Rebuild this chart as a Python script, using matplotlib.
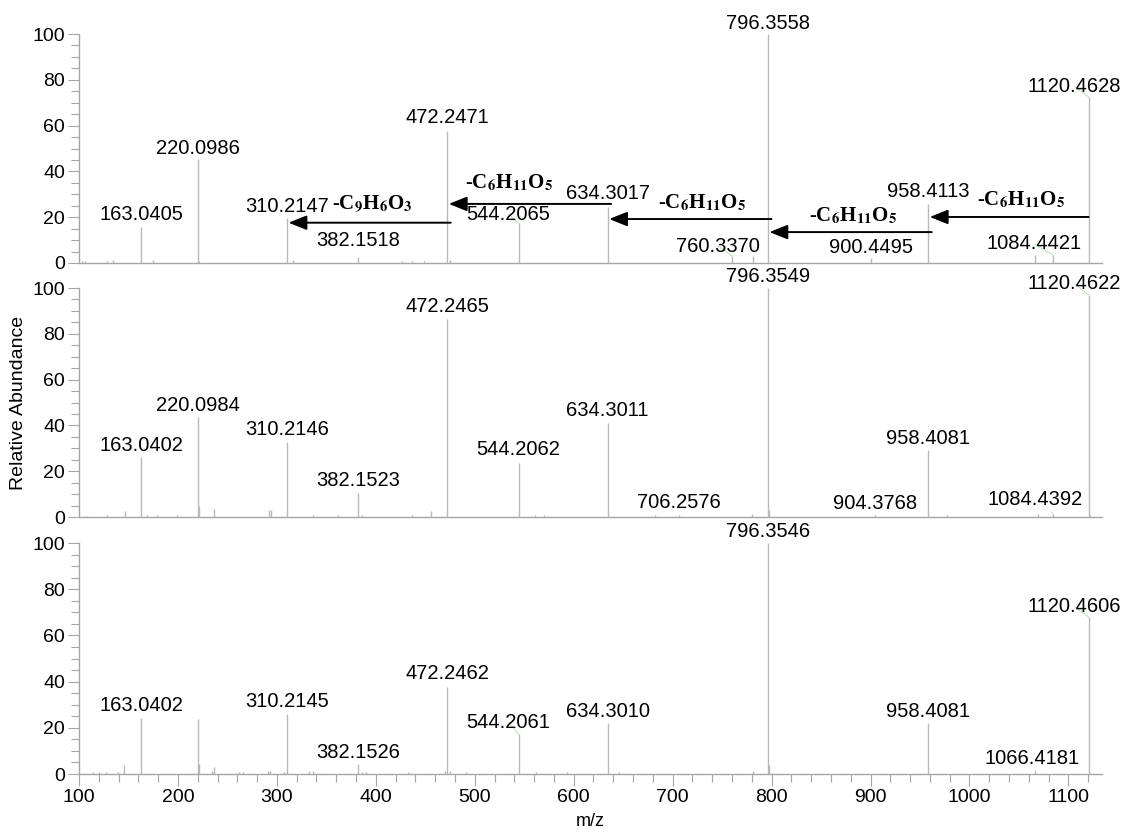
import matplotlib
matplotlib.use('Agg')
import matplotlib.pyplot as plt
from matplotlib.ticker import MultipleLocator

plt.rcParams['font.family'] = ['Liberation Sans', 'DejaVu Sans']

# labelled peaks (m/z, relative abundance) for the three spectra
top_mz = [163.0405, 220.0986, 310.2147, 382.1518, 472.2471, 544.2065, 634.3017,
          760.3370, 796.3558, 900.4495, 958.4113, 1084.4421, 1120.4628]
top_int = [15.7, 45.4, 19.5, 2.6, 57.7, 17.4, 24.6, 3.0, 100, 2.0, 25.8, 3.5, 72.6]

mid_mz = [163.0402, 220.0984, 310.2146, 382.1523, 472.2465, 544.2062, 634.3011,
          706.2576, 796.3549, 904.3768, 958.4081, 1084.4392, 1120.4622]
mid_int = [26.2, 43.7, 32.8, 10.5, 86.5, 23.6, 41.0, 1.0, 100, 0.8, 29.3, 1.5, 97.0]

bot_mz = [163.0402, 310.2145, 382.1526, 472.2462, 544.2061, 634.3010,
          796.3546, 958.4081, 1066.4181, 1120.4606]
bot_int = [24.2, 26.0, 4.3, 37.7, 17.3, 22.0, 100, 22.0, 1.3, 68.0]

# unlabelled peaks
top_small_mz = [103, 106, 128, 134, 175, 221.5, 316, 426, 437, 449, 475, 781, 1066]
top_small_int = [0.8, 0.8, 0.8, 1.2, 1.5, 1.0, 1.5, 1.0, 1.0, 1.0, 1.5, 3.0, 3.5]

mid_small_mz = [108, 128, 146, 169, 179, 199, 221.5, 236, 292, 294, 336, 362, 386,
                437, 456, 561, 570, 682, 780, 797.5, 977, 1069, 1122]
mid_small_int = [0.5, 0.8, 2.6, 1.0, 1.0, 0.8, 4.8, 3.5, 3.0, 3.0, 1.0, 0.8, 1.0,
                 1.0, 2.5, 1.0, 1.0, 1.0, 1.5, 3.0, 1.0, 1.5, 1.0]

bot_small_mz = [114, 120, 127, 139, 145, 220.0984, 221.5, 234, 236, 262, 266, 291,
                293, 307, 332, 336, 386, 390, 433, 470, 475, 491, 562, 593, 646,
                781, 797.5]
bot_small_int = [0.7, 0.7, 1.0, 0.7, 3.9, 23.8, 4.3, 1.5, 3.0, 1.0, 1.0, 1.5,
                 1.5, 1.0, 1.5, 1.5, 1.0, 1.0, 1.0, 1.5, 1.5, 1.0, 1.0, 1.0, 1.0,
                 1.5, 4.0]

# neutral losses between fragments in the first spectrum
loss_from = [1120.4628, 958.4113, 796.3558, 634.3017, 472.2471]
loss_to = [958.4113, 796.3558, 634.3017, 472.2471, 310.2147]
loss_level = [20.1, 13.5, 19.2, 25.8, 17.6]
loss_names = [r'-C$_\mathbf{6}$H$_\mathbf{11}$O$_\mathbf{5}$'] * 4 + \
             [r'-C$_\mathbf{9}$H$_\mathbf{6}$O$_\mathbf{3}$']
loss_text_pos = [(1052, 27.5), (882, 20.5), (730, 26.2), (535, 35.0), (396, 25.8)]

# label offsets (pixels) from each peak top
top_off = [(0, 13), (0, 11), (0, 12), (0, 17), (0, 13), (-10, 9), (0, 13),
           (-14, 10), (0, 11), (0, 11), (0, 12), (-19, 11), (-14, 10)]
mid_off = [(0, 12), (0, 11), (0, 12), (0, 12), (0, 12), (0, 13), (0, 13),
           (0, 12), (0, 12), (0, 12), (0, 11), (-18, 14), (-14, 11)]
bot_off = [(0, 13), (0, 12), (0, 12), (0, 13), (-10, 12), (0, 12), (0, 12),
           (0, 12), (-3, 13), (-14, 10)]

peak_col = '#b9b9b9'
axis_col = '#a6a6a6'

fig = plt.figure(figsize=(11.26, 8.32), dpi=100)
left, width = 0.0702, 0.9085
ax1 = fig.add_axes([left, 0.6839, width, 0.2752])
ax2 = fig.add_axes([left, 0.3786, width, 0.2752])
ax3 = fig.add_axes([left, 0.0697, width, 0.2776])


def draw_spectrum(ax, mz, inten, small_mz, small_int, offsets):
    ax.vlines(small_mz, 0, small_int, color=peak_col, lw=1)
    ax.vlines(mz, 0, inten, color=peak_col, lw=1)
    for m, h, (dx, dy) in zip(mz, inten, offsets):
        props = None
        if dx != 0:
            props = dict(arrowstyle='-', color='#b5e3b5', lw=0.7,
                         shrinkA=0, shrinkB=0)
        ax.annotate(f'{m:.4f}', xy=(m, h), xytext=(dx, dy),
                    textcoords='offset pixels', ha='center', va='center',
                    fontsize=14.5, arrowprops=props)
    ax.set_xlim(100, 1134)
    ax.set_ylim(0, 100)
    for s in ['top', 'right']:
        ax.spines[s].set_visible(False)
    for s in ['left', 'bottom']:
        ax.spines[s].set_color(axis_col)
        ax.spines[s].set_linewidth(1)
    ax.yaxis.set_major_locator(MultipleLocator(20))
    ax.yaxis.set_minor_locator(MultipleLocator(5))
    ax.tick_params(axis='y', which='major', length=8, width=0.8,
                   color=axis_col, labelsize=14, pad=2)
    ax.tick_params(axis='y', which='minor', length=5.5, width=0.8,
                   color=axis_col)


draw_spectrum(ax1, top_mz, top_int, top_small_mz, top_small_int, top_off)
draw_spectrum(ax2, mid_mz, mid_int, mid_small_mz, mid_small_int, mid_off)
draw_spectrum(ax3, bot_mz, bot_int, bot_small_mz, bot_small_int, bot_off)

for ax in (ax1, ax2):
    ax.tick_params(axis='x', which='both', bottom=False, labelbottom=False)

ax3.xaxis.set_major_locator(MultipleLocator(100))
ax3.xaxis.set_minor_locator(MultipleLocator(20))
ax3.tick_params(axis='x', which='major', length=8.6, width=0.8,
                color=axis_col, labelsize=14, pad=2)
ax3.tick_params(axis='x', which='minor', length=5.8, width=0.8,
                color=axis_col)
ax3.set_xlabel('m/z', fontsize=13, labelpad=5)
ax2.set_ylabel('Relative Abundance', fontsize=14, labelpad=4)

# fragmentation arrows
for i, (a, b, y) in enumerate(zip(loss_from, loss_to, loss_level)):
    tail = a if i == 0 else a + 3.5
    ax1.annotate('', xy=(b + 1.5, y), xytext=(tail, y),
                 arrowprops=dict(arrowstyle='-|>,head_length=0.55,head_width=0.22',
                                 color='black', lw=1.4, mutation_scale=20,
                                 shrinkA=0, shrinkB=0))
for name, (x, y) in zip(loss_names, loss_text_pos):
    ax1.text(x, y, name, ha='center', va='center', fontsize=15,
             family='Liberation Serif', weight='bold', math_fontfamily='stix')

fig.savefig('out.png', dpi=100)
